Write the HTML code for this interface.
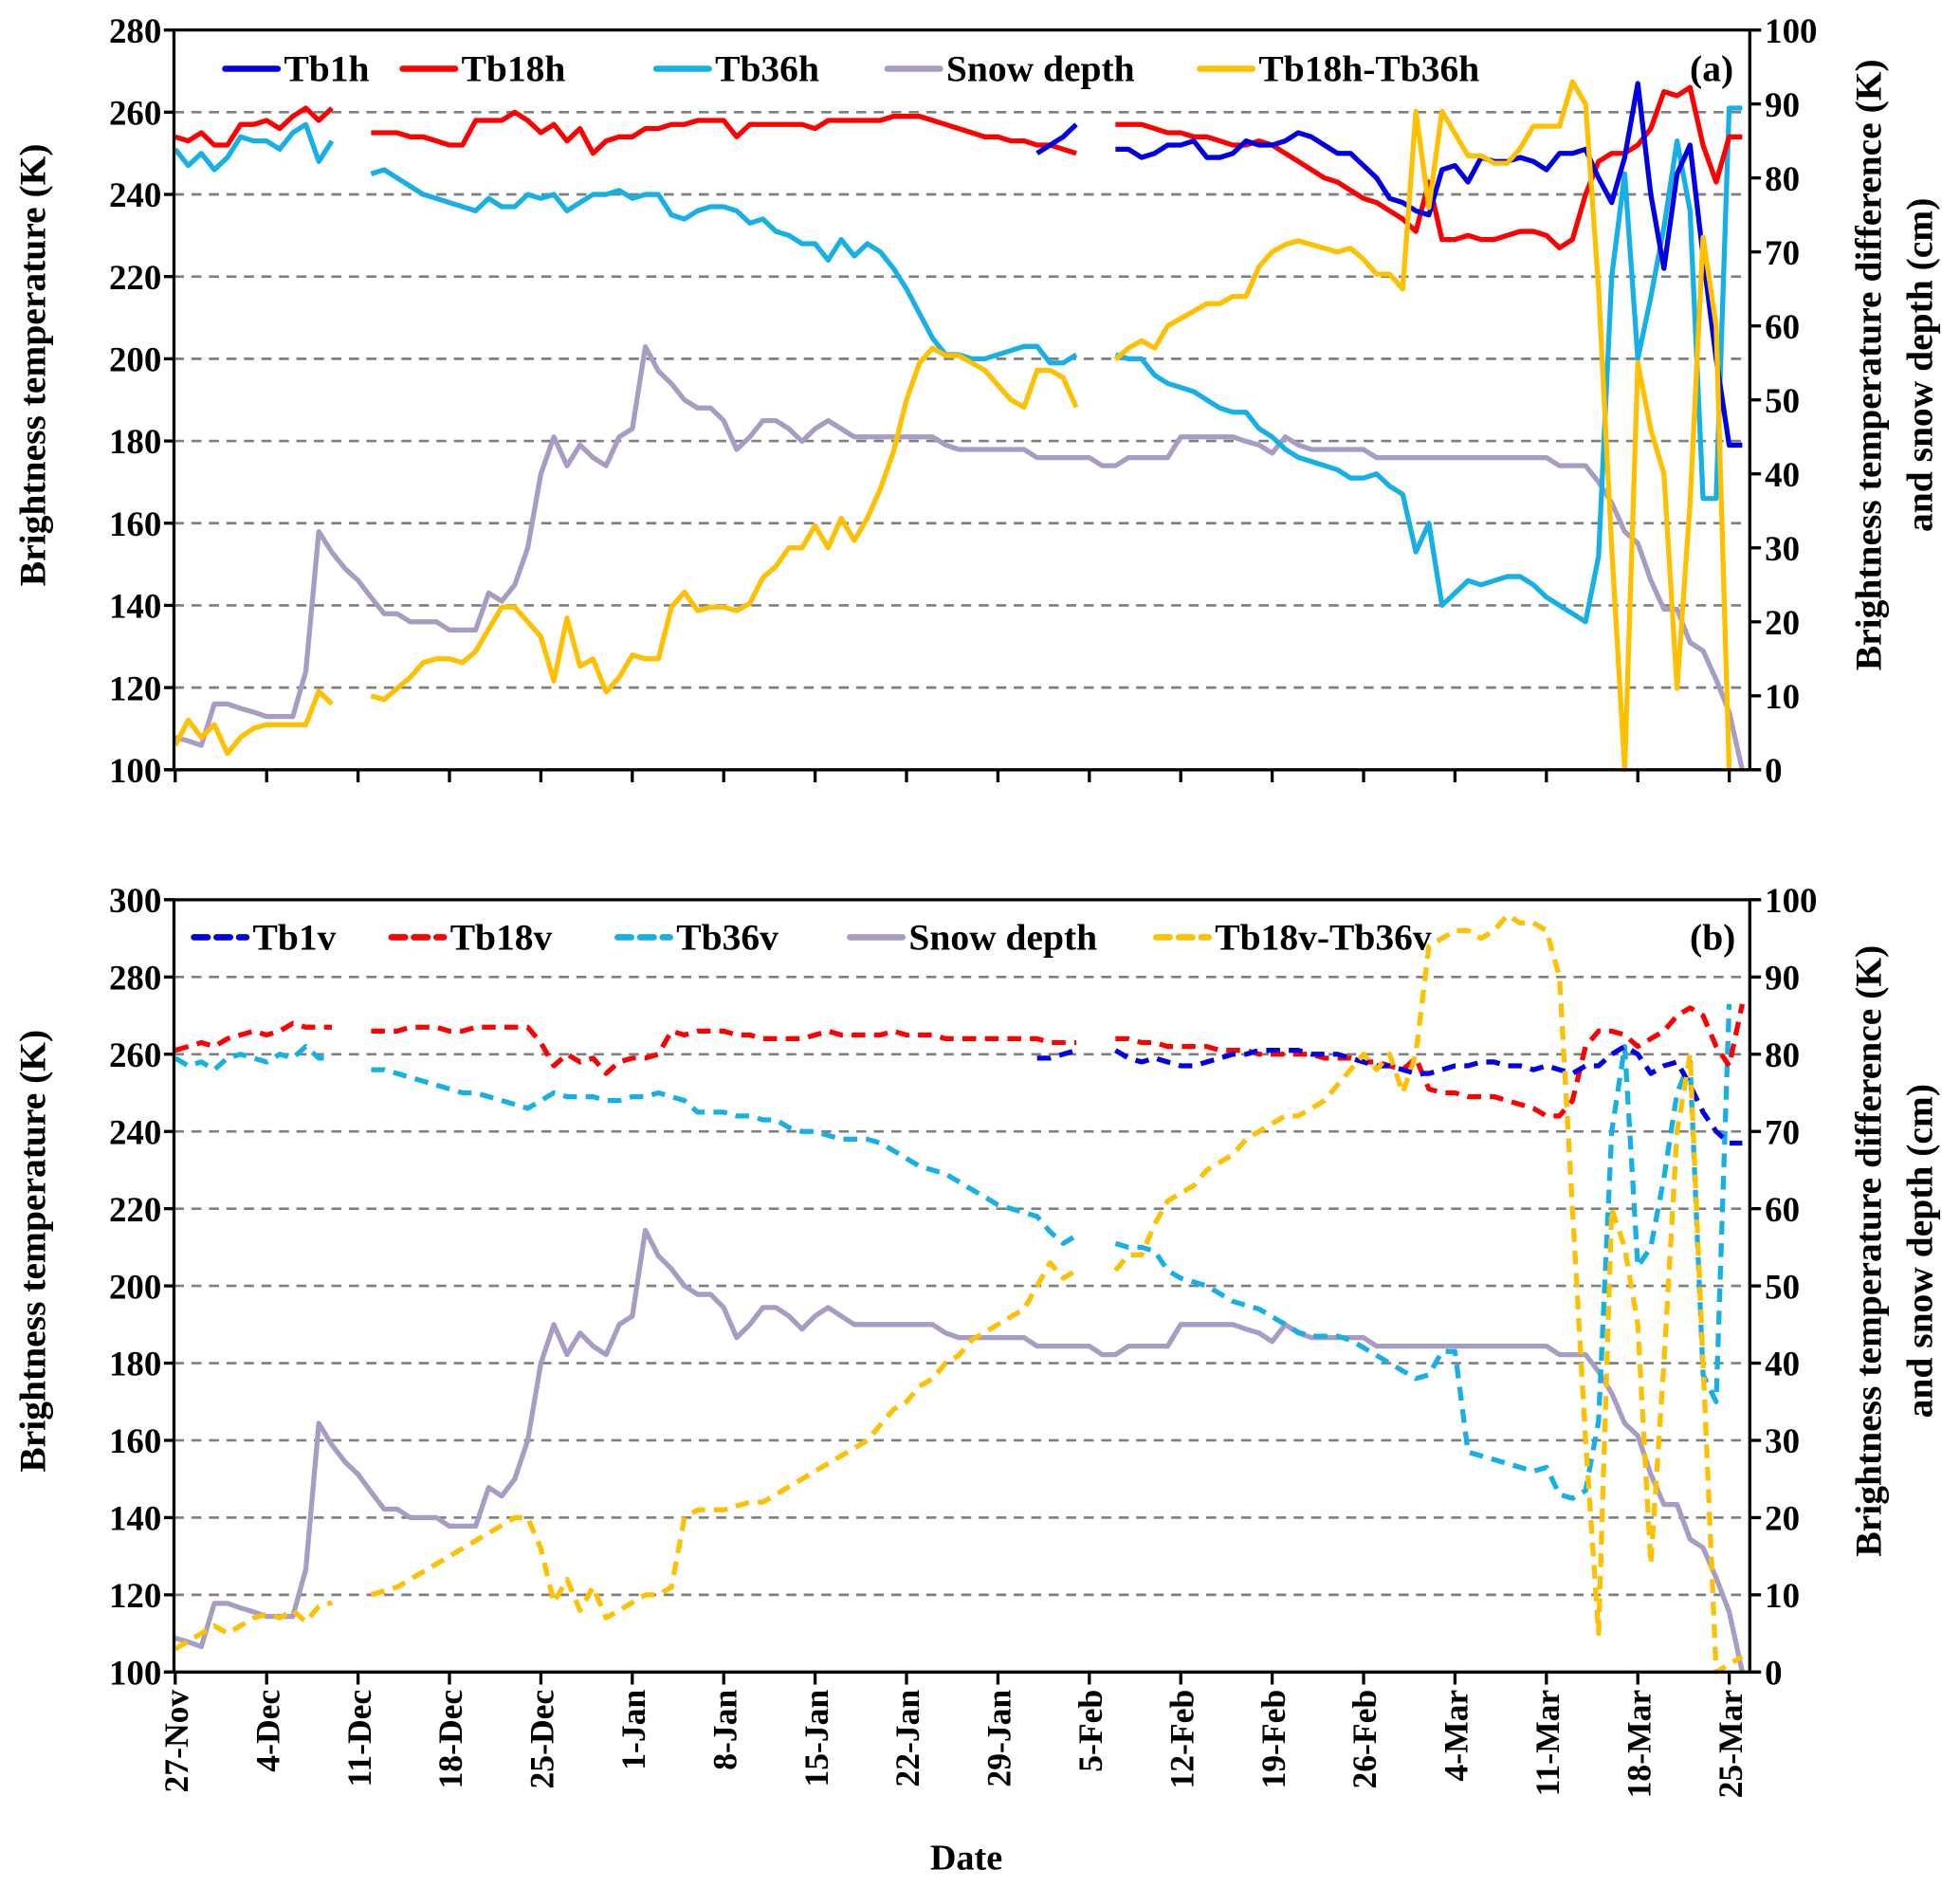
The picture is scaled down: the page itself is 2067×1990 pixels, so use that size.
<!DOCTYPE html>
<html><head><meta charset="utf-8"><style>
html,body{margin:0;padding:0;background:#fff}
svg{display:block}
text{font-family:"Liberation Serif",serif;font-weight:bold;fill:#000}
</style></head><body>
<svg id="chart" width="2067" height="1990" viewBox="0 0 1568 1510" xmlns="http://www.w3.org/2000/svg"></svg>
<script>
// ---- data (day index 0 = 27-Nov) ----
const N=null;
const dateLabels=["27-Nov","4-Dec","11-Dec","18-Dec","25-Dec","1-Jan","8-Jan","15-Jan","22-Jan","29-Jan","5-Feb","12-Feb","19-Feb","26-Feb","4-Mar","11-Mar","18-Mar","25-Mar"];
const leftTicksA=[100,120,140,160,180,200,220,240,260,280];
const leftTicksB=[100,120,140,160,180,200,220,240,260,280,300];
const rightTicks=[0,10,20,30,40,50,60,70,80,90,100];
const tb18h=[254,253,255,252,252,257,257,258,256,259,261,258,261,N,N,
255,255,255,254,254,253,252,252,258,258,258,260,258,255,257,253,256,250,253,254,254,256,256,257,257,258,258,258,254,257,257,257,257,257,256,258,258,258,258,258,259,259,259,258,257,256,255,254,254,253,253,252,252,251,250,N,N,
257,257,257,256,255,255,254,254,253,252,252,253,252,250,248,246,244,243,241,239,238,236,234,231,243,229,229,230,229,229,230,231,231,230,227,229,240,248,250,250,252,256,265,264,266,252,243,254,254];
const tb1h=[N,N,N,N,N,N,N,N,N,N,N,N,N,N,N,N,N,N,N,N,N,N,N,N,N,N,N,N,N,N,N,N,N,N,N,N,N,N,N,N,N,N,N,N,N,N,N,N,N,N,N,N,N,N,N,N,N,N,N,N,N,N,N,N,N,N,250,252,254,257,N,N,
251,251,249,250,252,252,253,249,249,250,253,252,252,253,255,254,252,250,250,247,244,239,238,236,235,246,247,243,249,248,248,249,248,246,250,250,251,244,238,249,267,240,222,245,252,225,200,179,179];
const tb36h=[251,247,250,246,249,254,253,253,251,255,257,248,253,N,N,
245,246,244,242,240,239,238,237,236,239,237,237,240,239,240,236,238,240,240,241,239,240,240,235,234,236,237,237,236,233,234,231,230,228,228,224,229,225,228,226,222,217,211,205,201,201,200,200,201,202,203,203,199,199,201,N,N,
201,200,200,196,194,193,192,190,188,187,187,183,181,178,176,175,174,173,171,171,172,169,167,153,160,140,143,146,145,146,147,147,145,142,140,138,136,152,220,245,200,215,232,253,236,166,166,261,261];
const snowDepth=[4.4,3.9,3.3,8.9,8.9,8.3,7.8,7.2,7.2,7.2,13.3,32.2,29.4,27.2,25.6,23.3,21.1,21.1,20,20,20,18.9,18.9,18.9,23.9,22.8,25,30,40,45,41.1,43.9,42.2,41.1,45,46.1,57.2,53.9,52.2,50,48.9,48.9,47.2,43.3,45,47.2,47.2,46.1,44.4,46.1,47.2,46.1,45,45,45,45,45,45,45,43.9,43.3,43.3,43.3,43.3,43.3,43.3,42.2,42.2,42.2,42.2,42.2,41.1,41.1,42.2,42.2,42.2,42.2,45,45,45,45,45,44.4,43.9,42.8,45,43.9,43.3,43.3,43.3,43.3,43.3,42.2,42.2,42.2,42.2,42.2,42.2,42.2,42.2,42.2,42.2,42.2,42.2,42.2,42.2,41.1,41.1,41.1,38.9,36.1,32.2,30.6,25.6,21.7,21.7,17.2,16.1,12.2,7.8,0];
const diffH=[3.3,6.7,4.4,6.1,2.2,4.4,5.6,6.1,6.1,6.1,6.1,10.6,8.9,N,N,
10,9.5,11,12.5,14.5,15,15,14.5,16,19,22,22,20,18,12,20.5,14,15,10.5,12.5,15.5,15,15,22,24,21.5,22,22,21.5,22.5,26,27.5,30,30,33,30,34,31,34,38,43,50,55,57,56,56,55,54,52,50,49,54,54,53,49,N,N,
55.5,57,58,57,60,61,62,63,63,64,64,68,70,71,71.5,71,70.5,70,70.5,69,67,67,65,89,76,89,86,83,83,82,82,84,87,87,87,93,90,65,30,0,55,46,40,11,36,72,60,0,N];
const tb18v=[261,262,263,262,264,265,266,265,266,268,267,267,267,N,N,
266,266,266,267,267,267,266,266,267,267,267,267,267,263,257,260,258,259,255,258,259,259,260,266,265,266,266,266,265,265,264,264,264,264,265,266,265,265,265,265,266,265,265,265,264,264,264,264,264,264,264,264,263,263,263,N,N,
264,264,263,263,262,262,262,262,261,261,261,260,260,260,260,260,259,259,259,258,258,257,256,259,251,250,250,249,249,249,248,247,246,244,244,248,262,266,266,265,262,264,266,270,272,270,262,257,273];
const tb1v=[N,N,N,N,N,N,N,N,N,N,N,N,N,N,N,N,N,N,N,N,N,N,N,N,N,N,N,N,N,N,N,N,N,N,N,N,N,N,N,N,N,N,N,N,N,N,N,N,N,N,N,N,N,N,N,N,N,N,N,N,N,N,N,N,N,N,259,259,260,261,N,N,
261,259,258,259,258,257,257,258,259,260,260,261,261,261,261,260,260,260,259,258,257,257,256,255,255,256,257,257,258,258,257,257,256,257,256,255,257,257,260,262,260,255,257,258,252,245,240,237,237];
const tb36v=[259,257,258,256,259,260,259,258,260,259,262,259,259,N,N,
256,256,255,254,253,252,251,250,250,249,248,247,246,248,250,249,249,249,248,248,249,249,250,249,248,245,245,245,244,244,243,243,241,240,240,239,238,238,238,237,235,233,231,230,229,227,225,223,221,220,219,218,214,211,213,N,N,
211,210,210,209,204,202,201,200,198,196,195,194,192,190,188,187,187,187,186,184,182,180,178,176,177,183,183,157,156,155,154,153,152,153,146,145,147,165,240,262,205,210,228,250,258,177,170,273,N];
const diffV=[3,4,5,6,5,6,7,7.5,7,8,6.5,8.5,9,N,N,
10,10.5,11,12,13,14,15,16,17,18,19,20,20,16,9,12,8,11,7,8,9,10,10,11,20,21,21,21,21.5,22,22,23,24,25,26,27,28,29,30,32,34,35,37,38,40,41,43,44,45,46,47,50,53,51,52,N,N,
52,54,54,58,61,62,63,65,66,67,69,70,71,72,72,73,74,76,78,80,78,80,75,80,94,95,96,96,95,96,98,97,97,96,90,60,30,5,60,55,45,14,40,70,80,40,0,1,2];

// ---- layout ----
const svg=document.getElementById('chart');
const NS='http://www.w3.org/2000/svg';
const X0=139,X1=1400;
const xDay=d=>140+d*10.45;
function mk(tag,attrs,parent){const e=document.createElementNS(NS,tag);for(const k in attrs)e.setAttribute(k,attrs[k]);(parent||svg).appendChild(e);return e;}
function panel(p){
  const yL=v=>p.bot-(v-p.lmin)/(p.lmax-p.lmin)*(p.bot-p.top);
  const yR=v=>p.bot-v/100*(p.bot-p.top);
  const g=mk('g',{});
  
  
  p.lticks.forEach(t=>{
    const y=yL(t);
    if(t>p.lmin&&t<p.lmax){const l=mk('line',{x1:X0,x2:X1,y1:y,y2:y,stroke:'#7f7f7f','stroke-width':2,'stroke-dasharray':'8 6'},g);}
    mk('line',{x1:X0-8,x2:X0,y1:y,y2:y,stroke:'#000','stroke-width':2.5},g);
    const tx=mk('text',{x:X0-10,y:y+10,'text-anchor':'end','font-size':28},g);tx.textContent=t;
    
  });
  rightTicks.forEach(t=>{
    const y=yR(t);
    mk('line',{x1:X1,x2:X1+9,y1:y,y2:y,stroke:'#000','stroke-width':2.5},g);
    const tx=mk('text',{x:X1+12,y:y+10,'font-size':28},g);tx.textContent=t;
    
  });
  dateLabels.forEach((lb,i)=>{
    const x=xDay(i*7);
    mk('line',{x1:x,x2:x,y1:p.bot,y2:p.bot+10,stroke:'#000','stroke-width':2.5},g);
    if(p.dates){const tx=mk('text',{x:0,y:0,'text-anchor':'end','font-size':27,transform:`translate(${x+10},${p.bot+14}) rotate(-90)`},g);tx.textContent=lb;
      }
  });
  function series(arr,axis,color,dash,name){
    let d='',pen=false;
    arr.forEach((v,i)=>{if(v===null||v===undefined){pen=false;return;}const y=axis==='L'?yL(v):yR(v);d+=(pen?'L':'M')+xDay(i).toFixed(1)+' '+y.toFixed(1);pen=true;});
    const a={d:d,fill:'none',stroke:color,'stroke-width':4,'stroke-linejoin':'round'};
    if(dash)a['stroke-dasharray']='11 7';
    const path=mk('path',a,g);
    
    
  }
  p.series.forEach(s=>series(s[0],s[1],s[2],s[3],s[4]));
  mk('line',{x1:X0,x2:X0,y1:p.top,y2:p.bot,stroke:'#000','stroke-width':2.5},g);
  mk('line',{x1:X1,x2:X1,y1:p.top,y2:p.bot,stroke:'#000','stroke-width':2.5},g);
  mk('line',{x1:X0-8,x2:X1+9,y1:p.bot,y2:p.bot,stroke:'#000','stroke-width':2.5},g);
  mk('line',{x1:X0-8,x2:X1+9,y1:p.top,y2:p.top,stroke:'#000','stroke-width':2.5},g);
  p.legend.forEach(L=>{
    const a={x1:L[0],x2:L[0]+42,y1:p.legY,y2:p.legY,stroke:L[2],'stroke-width':5,'stroke-linecap':'round'};
    if(L[3])a['stroke-dasharray']='11 7';
    const ln=mk('line',a,g);
    const tx=mk('text',{x:L[0]+47,y:p.legY+10,'font-size':30},g);tx.textContent=L[1];
    
  });
  const pl=mk('text',{x:1352,y:p.legY+10,'font-size':30},g);pl.textContent=p.label;
  
  const yt=mk('text',{x:0,y:0,'text-anchor':'middle','font-size':30,transform:`translate(36,${(p.top+p.bot)/2-28}) rotate(-90)`},g);yt.textContent='Brightness temperature (K)';
  
  const r1=mk('text',{x:0,y:0,'text-anchor':'middle','font-size':30,transform:`translate(1505,${(p.top+p.bot)/2-28}) rotate(-90)`},g);r1.textContent='Brightness temperature difference (K)';
  
  const r2=mk('text',{x:0,y:0,'text-anchor':'middle','font-size':30,transform:`translate(1546,${(p.top+p.bot)/2-28}) rotate(-90)`},g);r2.textContent='and snow depth (cm)';
  
}
panel({name:'panel-a',top:24,bot:616,lmin:100,lmax:280,lticks:leftTicksA,dates:false,legY:55,label:'(a)',
  series:[[snowDepth,'R','#a89bc4',false,'snow-depth-line-a'],[tb36h,'L','#17b0e6',false,'tb36h-line'],[tb18h,'L','#ff0000',false,'tb18h-line'],[tb1h,'L','#0000e6',false,'tb1h-line'],[diffH,'R','#ffc000',false,'tb18h-tb36h-line']],
  legend:[[180,'Tb1h','#0000e6',false],[322,'Tb18h','#ff0000',false],[525,'Tb36h','#17b0e6',false],[710,'Snow depth','#a89bc4',false],[960,'Tb18h-Tb36h','#ffc000',false]]});
panel({name:'panel-b',top:720,bot:1338,lmin:100,lmax:300,lticks:leftTicksB,dates:true,legY:750,label:'(b)',
  series:[[snowDepth,'R','#a89bc4',false,'snow-depth-line-b'],[tb36v,'L','#17b0e6',true,'tb36v-line'],[tb18v,'L','#ff0000',true,'tb18v-line'],[tb1v,'L','#0000e6',true,'tb1v-line'],[diffV,'R','#ffc000',true,'tb18v-tb36v-line']],
  legend:[[155,'Tb1v','#0000e6',true],[313,'Tb18v','#ff0000',true],[494,'Tb36v','#17b0e6',true],[680,'Snow depth','#a89bc4',false],[925,'Tb18v-Tb36v','#ffc000',true]]});
const dt=mk('text',{x:773,y:1496,'text-anchor':'middle','font-size':29});dt.textContent='Date';


</script>
</body></html>
